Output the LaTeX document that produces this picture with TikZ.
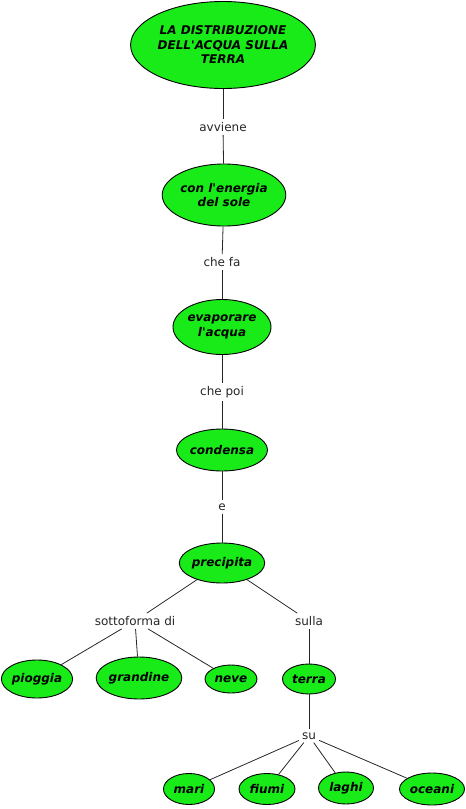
\documentclass[tikz,border=0pt]{standalone}
\usepackage{fontspec}
\setmainfont{DejaVu Sans}
\usetikzlibrary{shapes.geometric}
\definecolor{nodegreen}{RGB}{25,235,25}
\begin{document}
\begin{tikzpicture}[x=1pt,y=-1pt,
  ell/.style={ellipse,draw=black,line width=0.9pt,fill=nodegreen,inner sep=0pt,align=center,
    font=\fontsize{12}{14.5}\selectfont\bfseries\itshape},
  lab/.style={inner sep=3pt,font=\fontsize{12}{14}\selectfont,text=black!85},
  conn/.style={draw=black!85,line width=0.8pt}]
\useasboundingbox (0,0) rectangle (466,809);
\node[ell,minimum width=170pt,minimum height=87pt] (t) at (223,45) {LA DISTRIBUZIONE\\DELL\textquotesingle ACQUA SULLA\\TERRA};
\node[lab] (l1) at (223,127) {avviene};
\node[ell,minimum width=116pt,minimum height=62pt] (sole) at (224,195) {con l\textquotesingle energia\\del sole};
\node[lab] (l2) at (222,262) {che fa};
\node[ell,minimum width=98pt,minimum height=55pt] (evap) at (222,327) {evaporare\\l\textquotesingle acqua};
\node[lab] (l3) at (222,392) {che poi};
\node[ell,minimum width=85pt,minimum height=42pt] (cond) at (222,450) {condensa};
\node[lab] (l4) at (222,507) {e};
\node[ell,minimum width=80pt,minimum height=40pt] (prec) at (222,563) {precipita};
\node[lab] (l5) at (135,621) {sottoforma di};
\node[lab] (l6) at (309,621) {sulla};
\node[ell,minimum width=71pt,minimum height=38pt] (piog) at (37,679) {pioggia};
\node[ell,minimum width=82pt,minimum height=42pt] (gran) at (139,678) {grandine};
\node[ell,minimum width=52pt,minimum height=28pt] (neve) at (231,679) {neve};
\node[ell,minimum width=53pt,minimum height=30pt] (terra) at (309,679) {terra};
\node[lab] (l7) at (309,736) {su};
\node[ell,minimum width=51pt,minimum height=31pt] (mari) at (189,789) {mari};
\node[ell,minimum width=56pt,minimum height=31pt] (fiumi) at (267,789) {fiumi};
\node[ell,minimum width=55pt,minimum height=32pt] (laghi) at (346,788) {laghi};
\node[ell,minimum width=65pt,minimum height=32pt] (oceani) at (432,789) {oceani};
\draw[conn] (t) -- (l1);
\draw[conn] (l1) -- (sole);
\draw[conn] (sole) -- (l2);
\draw[conn] (l2) -- (evap);
\draw[conn] (evap) -- (l3);
\draw[conn] (l3) -- (cond);
\draw[conn] (cond) -- (l4);
\draw[conn] (l4) -- (prec);
\draw[conn] (prec) -- (l5);
\draw[conn] (prec) -- (l6);
\draw[conn] (l5) -- (piog);
\draw[conn] (l5) -- (gran);
\draw[conn] (l5) -- (neve);
\draw[conn] (l6) -- (terra);
\draw[conn] (terra) -- (l7);
\draw[conn] (l7) -- (mari);
\draw[conn] (l7) -- (fiumi);
\draw[conn] (l7) -- (laghi);
\draw[conn] (l7) -- (oceani);
\end{tikzpicture}
\end{document}
